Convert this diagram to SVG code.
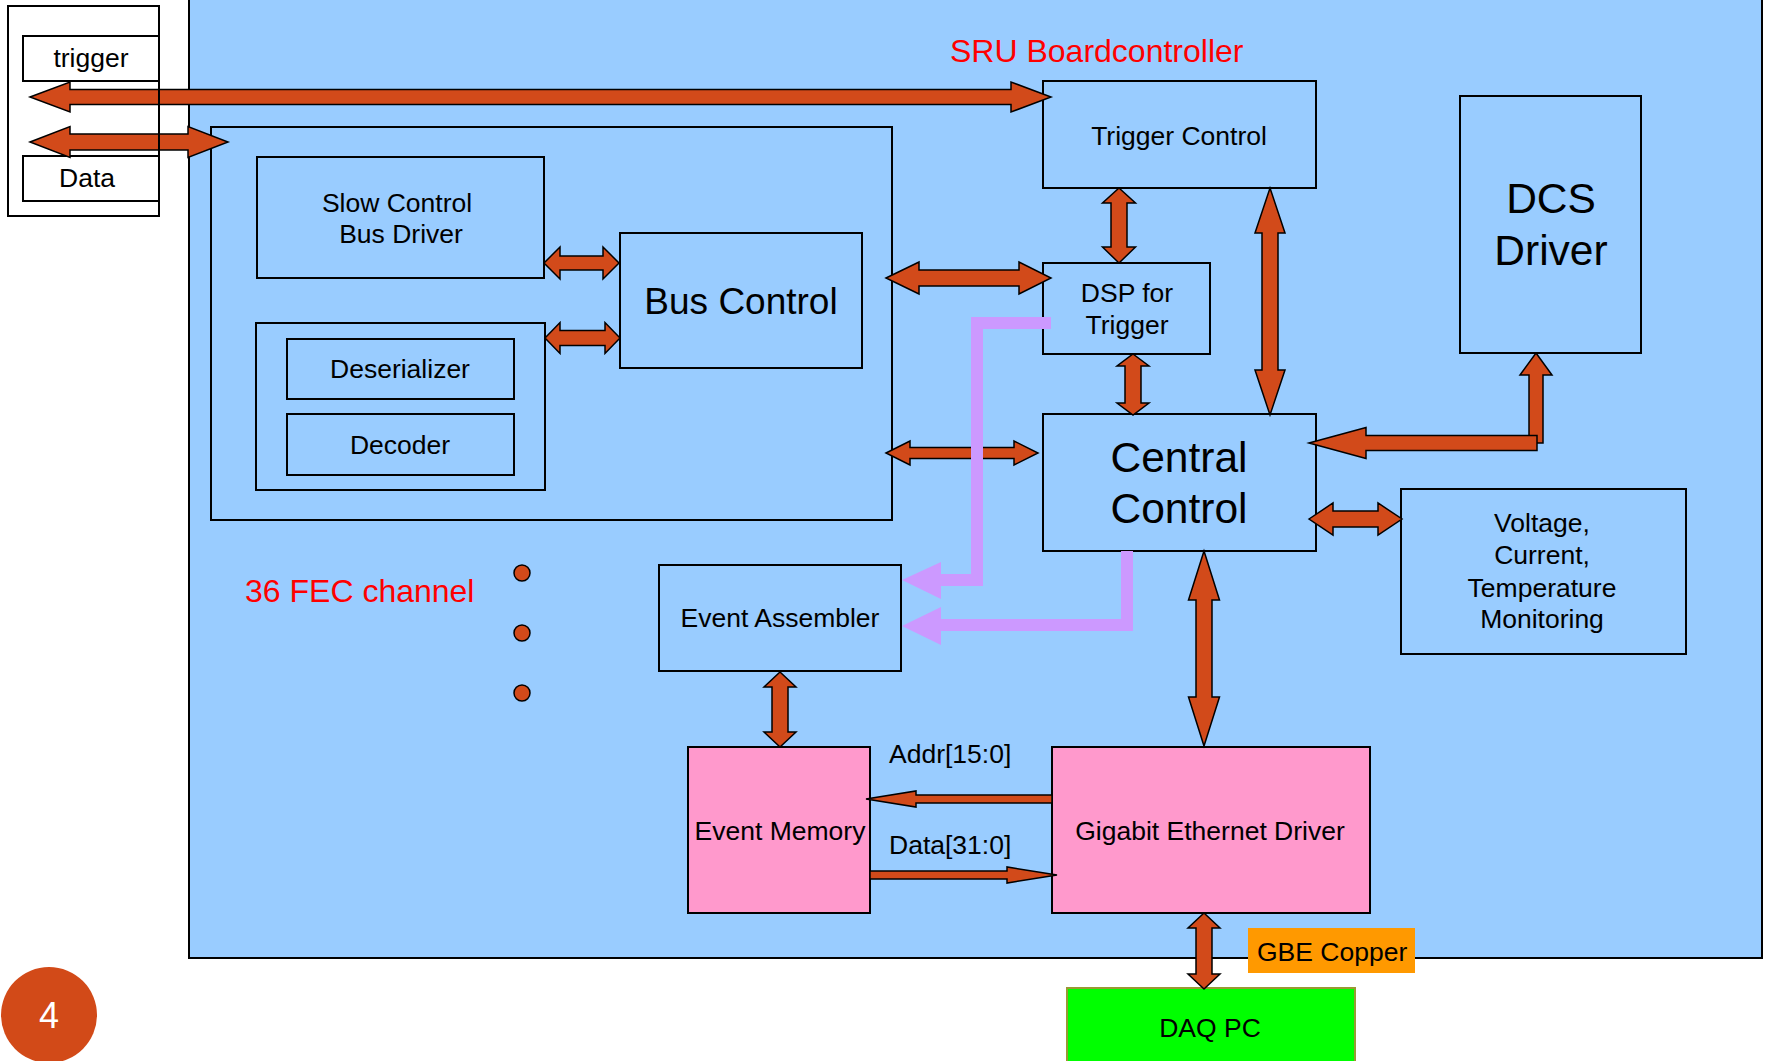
<svg xmlns="http://www.w3.org/2000/svg" width="1766" height="1061" viewBox="0 0 1766 1061">
<style>
text{font-family:"Liberation Sans",Arial,sans-serif;fill:#000}
.t26{font-size:26.5px}
.big{font-size:42.5px}
.red{font-size:32px;fill:#ff0000}
.mid{text-anchor:middle}
.box{fill:#99ccff;stroke:#000;stroke-width:2}
.wbox{fill:#fff;stroke:#000;stroke-width:2}
.pink{fill:#ff99cc;stroke:#000;stroke-width:2}
.arr{fill:#d24a1a;stroke:#000;stroke-width:1.5;stroke-linejoin:miter}
.pl{fill:none;stroke:#cc99ff;stroke-width:12}
.ph{fill:#cc99ff}
</style>
<rect id="sru-board" class="box" x="189" y="-2" width="1573" height="960"/>
<g id="external">
<rect class="wbox" x="8" y="6" width="151" height="210"/>
<rect id="trigger" class="wbox" x="23" y="36" width="136" height="45"/>
<text class="t26 mid" x="91" y="67">trigger</text>
<rect id="data" class="wbox" x="23" y="156" width="136" height="45"/>
<text class="t26 mid" x="87" y="187">Data</text>
</g>
<text id="title" class="red" x="950" y="62">SRU Boardcontroller</text>
<g id="fec">
<rect class="box" x="211" y="127" width="681" height="393"/>
<g id="slow-control">
<rect class="box" x="257" y="157" width="287" height="121"/>
<text class="t26 mid" x="397" y="212">Slow Control</text>
<text class="t26 mid" x="401" y="243">Bus Driver</text>
</g>
<g id="bus-control">
<rect class="box" x="620" y="233" width="242" height="135"/>
<text class="mid" style="font-size:37px" x="741" y="314">Bus Control</text>
</g>
<g id="deser-decoder">
<rect class="box" x="256" y="323" width="289" height="167"/>
<rect id="deserializer" class="box" x="287" y="339" width="227" height="60"/>
<text class="t26 mid" x="400" y="378">Deserializer</text>
<rect id="decoder" class="box" x="287" y="414" width="227" height="61"/>
<text class="t26 mid" x="400" y="454">Decoder</text>
</g>
</g>
<text id="fec-label" class="red" x="245" y="602">36 FEC channel</text>
<g id="dots" class="arr">
<circle cx="522" cy="573" r="8"/>
<circle cx="522" cy="633" r="8"/>
<circle cx="522" cy="693" r="8"/>
</g>
<g id="trigger-control">
<rect class="box" x="1043" y="81" width="273" height="107"/>
<text class="t26 mid" x="1179" y="145">Trigger Control</text>
</g>
<g id="dsp">
<rect class="box" x="1043" y="263" width="167" height="91"/>
<text class="t26 mid" x="1127" y="302">DSP for</text>
<text class="t26 mid" x="1127" y="334">Trigger</text>
</g>
<g id="dcs-driver">
<rect class="box" x="1460" y="96" width="181" height="257"/>
<text class="big mid" x="1551" y="213">DCS</text>
<text class="big mid" x="1551" y="265">Driver</text>
</g>
<g id="central-control">
<rect class="box" x="1043" y="414" width="273" height="137"/>
<text class="big mid" x="1179" y="472">Central</text>
<text class="big mid" x="1179" y="523">Control</text>
</g>
<g id="monitoring">
<rect class="box" x="1401" y="489" width="285" height="165"/>
<text class="t26 mid" x="1542" y="532">Voltage,</text>
<text class="t26 mid" x="1542" y="564">Current,</text>
<text class="t26 mid" x="1542" y="597">Temperature</text>
<text class="t26 mid" x="1542" y="628">Monitoring</text>
</g>
<g id="event-assembler">
<rect class="box" x="659" y="565" width="242" height="106"/>
<text class="t26 mid" x="780" y="627">Event Assembler</text>
</g>
<g id="event-memory">
<rect class="pink" x="688" y="747" width="182" height="166"/>
<text class="t26 mid" x="780" y="840">Event Memory</text>
</g>
<g id="gbe-driver">
<rect class="pink" x="1052" y="747" width="318" height="166"/>
<text class="t26 mid" x="1210" y="840">Gigabit Ethernet Driver</text>
</g>
<g id="daq-pc">
<rect x="1067" y="988" width="288" height="80" fill="#00ff00" stroke="#999933" stroke-width="2"/>
<text class="t26 mid" x="1210" y="1037">DAQ PC</text>
</g>
<g id="gbe-copper">
<rect x="1248" y="928" width="167" height="45" fill="#ff9900"/>
<text class="t26" x="1257" y="961">GBE Copper</text>
</g>
<g id="connectors">
<polygon class="arr" points="30,97 70,82 70,89.5 1011,89.5 1011,82 1051,97 1011,112 1011,104.5 70,104.5 70,112"/>
<polygon class="arr" points="30,142 70,126.5 70,134 188,134 188,126.5 228,142 188,157.5 188,150 70,150 70,157.5"/>
<line x1="159" y1="6" x2="159" y2="216" stroke="#000" stroke-width="2"/>
<polygon class="arr" points="544,263 560,247 560,256 603,256 603,247 619,263 603,279 603,270 560,270 560,279"/>
<polygon class="arr" points="545,338 560,322.5 560,330.5 605,330.5 605,322.5 620,338 605,353.5 605,345.5 560,345.5 560,353.5"/>
<polygon class="arr" points="886,278 919,262 919,270 1019,270 1019,262 1051,278 1019,294 1019,286 919,286 919,294"/>
<polygon class="arr" points="886,453 910,441 910,447.5 1014,447.5 1014,441 1038,453 1014,465 1014,458.5 910,458.5 910,465"/>
<polygon class="arr" points="1119,188 1135.5,203 1127,203 1127,247 1135.5,247 1119,263 1102.5,247 1111,247 1111,203 1102.5,203"/>
<polygon class="arr" points="1133,354 1149,366 1141,366 1141,403 1149,403 1133,415 1117,403 1125,403 1125,366 1117,366"/>
<polygon class="arr" points="1270,188 1285,233 1278,233 1278,370 1285,370 1270,415 1255,370 1262,370 1262,233 1255,233"/>
<polygon class="arr" points="1536,353 1552,375 1543,375 1543,443 1529,443 1529,375 1520,375"/>
<polygon class="arr" points="1309,443 1366,427.5 1366,435.5 1537,435.5 1537,450.5 1366,450.5 1366,458.5"/>
<polygon class="arr" points="1309,519 1333,503 1333,511 1378,511 1378,503 1402,519 1378,535 1378,527 1333,527 1333,535"/>
<polygon class="arr" points="1204,551 1219.5,600 1212,600 1212,697 1219.5,697 1204,746 1188.5,697 1196,697 1196,600 1188.5,600"/>
<polygon class="arr" points="780,672 796,687 788,687 788,732 796,732 780,747 764,732 772,732 772,687 764,687"/>
<polygon class="arr" points="1204,913 1220,928 1212,928 1212,974 1220,974 1204,989 1188,974 1196,974 1196,928 1188,928"/>
<polygon class="arr" points="866,799 916,791 916,795 1052,795 1052,803 916,803 916,807"/>
<polygon class="arr" points="870,871 1007,871 1007,867 1057,875 1007,883 1007,879 870,879"/>
<polyline class="pl" points="1051,323 977,323 977,580 940,580"/>
<polygon class="ph" points="902,580 941,562 941,599"/>
<polyline class="pl" points="1127,551 1127,625 940,625"/>
<polygon class="ph" points="902,626 941,607 941,645"/>
</g>
<g id="page-number">
<circle cx="49" cy="1015" r="48" fill="#d24a18"/>
<text class="mid" x="49" y="1028" style="font-size:36px;fill:#fff">4</text>
</g>
<text class="t26" x="889" y="763">Addr[15:0]</text>
<text class="t26" x="889" y="854">Data[31:0]</text>
</svg>
